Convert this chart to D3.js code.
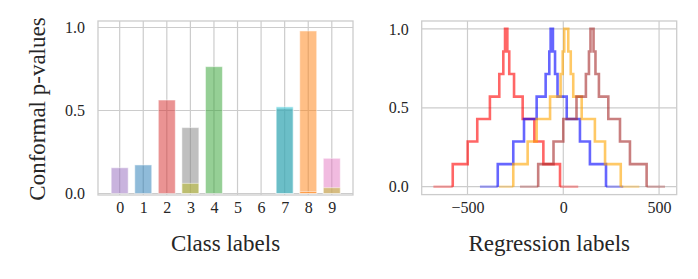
<!DOCTYPE html>
<html>
<head>
<meta charset="utf-8">
<script src="https://cdn.jsdelivr.net/npm/d3@7"></script>
<style>
  body { margin: 0; background: #fff; }
  text { font-family: "Liberation Serif", "DejaVu Serif", serif; fill: #262626; }
  .axis-label { font-size: 23px; }
</style>
</head>
<body>
<svg id="chart"></svg>
<script>
const WIDTH = 698;
const HEIGHT = 279;

// left panel: p-value per class
const classLabels = [0, 1, 2, 3, 4, 5, 6, 7, 8, 9];
const classPValues = [0.155, 0.172, 0.563, 0.397, 0.764, 0, 0, 0.512, 0.979, 0.212];
const classColors = ["#9467bd", "#1f77b4", "#d62728", "#7f7f7f", "#2ca02c",
                     "#8c564b", "#e377c2", "#7f7f7f", "#ff7f0e", "#e377c2"];
// second bars drawn over some classes
const overlayClasses = [3, 7, 8, 9];
const overlayPValues = [0.061, 0.522, 0.012, 0.035];
const overlayColors = ["#bcbd22", "#17becf", "#ff7f0e", "#bcbd22"];

const yTicks = [0.0, 0.5, 1.0];

// right panel: step p-value curves over regression labels
const stepLevels = [0, 0.143, 0.286, 0.429, 0.571, 0.714, 0.857, 1.0,
                    0.857, 0.714, 0.571, 0.429, 0.286, 0.143, 0];
const redBreaks = [-678, -577, -499, -449, -383, -334, -313, -304, -292, -282, -257, -212, -151, -104, -17, 78];
const blueBreaks = [-435, -342, -261, -205, -139, -92, -73, -66, -54, -43, -30, 18, 87, 139, 223, 313];
const orangeBreaks = [-336, -261, -186, -139, -69, -14, -3, 5, 26, 39, 52, 96, 165, 218, 300, 397];
const brownBreaks = [-226, -131, -51, 0, 69, 118, 134, 142, 158, 168, 186, 235, 296, 348, 435, 531];
const regTicks = [-500, 0, 500];

const curves = [
    {breaks: redBreaks, color: "#ff0000", alpha: 0.6},
    {breaks: blueBreaks, color: "#0000ff", alpha: 0.6},
    {breaks: orangeBreaks, color: "#ffa500", alpha: 0.6},
    {breaks: brownBreaks, color: "#a52a2a", alpha: 0.6}
];

const GRID = "#cccccc";
const FONT = "'Liberation Serif', 'DejaVu Serif', serif";

const svg = d3.select("#chart")
    .attr("width", WIDTH)
    .attr("height", HEIGHT);

svg.append("rect").attr("width", WIDTH).attr("height", HEIGHT).attr("fill", "#fff");

function fmt(d) {
    return d3.format(".1f")(d);
}

function drawFrame(g, x0, x1, y0, y1) {
    g.append("rect")
        .attr("x", x0).attr("y", y1)
        .attr("width", x1 - x0).attr("height", y0 - y1)
        .attr("fill", "none")
        .attr("stroke", GRID)
        .attr("stroke-width", 1.3);
}

function styleAxis(g) {
    g.attr("font-family", FONT).attr("font-size", 16);
    g.select(".domain").remove();
    g.selectAll(".tick text").attr("fill", "#262626");
}

// ---------- Left panel ----------
const L = {left: 98, right: 353, top: 21, bottom: 195};

const xBar = d3.scaleLinear().domain([-0.92, 9.9]).range([L.left, L.right]);
const yBar = d3.scaleLinear().domain([-0.009, 1.039]).range([L.bottom, L.top]);
const barW = xBar(0.72) - xBar(0);

const left = svg.append("g");

// grid
left.selectAll("line.vgrid")
    .data(classLabels)
    .enter().append("line")
    .attr("x1", d => xBar(d)).attr("x2", d => xBar(d))
    .attr("y1", L.top).attr("y2", L.bottom)
    .attr("stroke", GRID).attr("stroke-width", 1.2);
left.selectAll("line.hgrid")
    .data(yTicks)
    .enter().append("line")
    .attr("x1", L.left).attr("x2", L.right)
    .attr("y1", d => yBar(d)).attr("y2", d => yBar(d))
    .attr("stroke", GRID).attr("stroke-width", 1.2);

// bars
left.selectAll("rect.bar")
    .data(classLabels.filter(c => classPValues[c] > 0))
    .enter().append("rect")
    .attr("x", c => xBar(c) - barW / 2)
    .attr("y", c => yBar(classPValues[c]))
    .attr("width", barW)
    .attr("height", c => yBar(0) - yBar(classPValues[c]))
    .attr("fill", c => classColors[c])
    .attr("fill-opacity", 0.5)
    .attr("stroke", "#fff").attr("stroke-opacity", 0.5).attr("stroke-width", 1);

left.selectAll("rect.overlay")
    .data(overlayClasses)
    .enter().append("rect")
    .attr("x", c => xBar(c) - barW / 2)
    .attr("y", (c, i) => yBar(overlayPValues[i]))
    .attr("width", barW)
    .attr("height", (c, i) => yBar(0) - yBar(overlayPValues[i]))
    .attr("fill", (c, i) => overlayColors[i])
    .attr("fill-opacity", 0.5)
    .attr("stroke", "#fff").attr("stroke-opacity", 0.5).attr("stroke-width", 1);

drawFrame(left, L.left, L.right, L.bottom, L.top);

// axes
left.append("g")
    .attr("transform", `translate(0,${L.bottom})`)
    .call(d3.axisBottom(xBar).tickValues(classLabels).tickSize(0).tickPadding(7).tickFormat(d3.format("d")))
    .call(styleAxis);
left.append("g")
    .attr("transform", `translate(${L.left},0)`)
    .call(d3.axisLeft(yBar).tickValues(yTicks).tickSize(0).tickPadding(13).tickFormat(fmt))
    .call(styleAxis);

left.append("text")
    .attr("class", "axis-label")
    .attr("x", (L.left + L.right) / 2)
    .attr("y", 251)
    .attr("text-anchor", "middle")
    .text("Class labels");

left.append("text")
    .attr("class", "axis-label")
    .attr("transform", `translate(45,${(L.top + L.bottom) / 2 + 1}) rotate(-90)`)
    .attr("text-anchor", "middle")
    .text("Conformal p-values");

// ---------- Right panel ----------
const R = {left: 421.7, right: 676.7, top: 21, bottom: 194.6};

const xReg = d3.scaleLinear().domain([-739, 592]).range([R.left, R.right]);
const yReg = d3.scaleLinear().domain([-0.05, 1.05]).range([R.bottom, R.top]);

const right = svg.append("g");

right.selectAll("line.vgrid")
    .data(regTicks)
    .enter().append("line")
    .attr("x1", d => xReg(d)).attr("x2", d => xReg(d))
    .attr("y1", R.top).attr("y2", R.bottom)
    .attr("stroke", GRID).attr("stroke-width", 1.2);
right.selectAll("line.hgrid")
    .data(yTicks)
    .enter().append("line")
    .attr("x1", R.left).attr("x2", R.right)
    .attr("y1", d => yReg(d)).attr("y2", d => yReg(d))
    .attr("stroke", GRID).attr("stroke-width", 1.2);

drawFrame(right, R.left, R.right, R.bottom, R.top);

const stepLine = d3.line()
    .x(d => xReg(d[0]))
    .y(d => yReg(d[1]))
    .curve(d3.curveStepAfter);

curves.forEach(c => {
    const b = c.breaks;
    const n = b.length - 1;
    // flat tails at zero, drawn lighter
    [[b[0], b[1]], [b[n - 1], b[n]]].forEach(seg => {
        right.append("path")
            .attr("d", stepLine([[seg[0], 0], [seg[1], 0]]))
            .attr("fill", "none")
            .attr("stroke", c.color)
            .attr("stroke-opacity", c.alpha / 2)
            .attr("stroke-width", 2.6);
    });
    const pts = [[b[1], 0]];
    for (let i = 1; i < n; i++) pts.push([b[i], stepLevels[i]]);
    pts.push([b[n - 1], 0]);
    right.append("path")
        .attr("d", stepLine(pts))
        .attr("fill", "none")
        .attr("stroke", c.color)
        .attr("stroke-opacity", c.alpha)
        .attr("stroke-width", 2.6);
});

right.append("g")
    .attr("transform", `translate(0,${R.bottom})`)
    .call(d3.axisBottom(xReg).tickValues(regTicks).tickSize(0).tickPadding(7))
    .call(styleAxis);
right.append("g")
    .attr("transform", `translate(${R.left},0)`)
    .call(d3.axisLeft(yReg).tickValues(yTicks).tickSize(0).tickPadding(13).tickFormat(fmt))
    .call(styleAxis);

right.append("text")
    .attr("class", "axis-label")
    .attr("x", (R.left + R.right) / 2)
    .attr("y", 251)
    .attr("text-anchor", "middle")
    .text("Regression labels");
</script>
</body>
</html>
